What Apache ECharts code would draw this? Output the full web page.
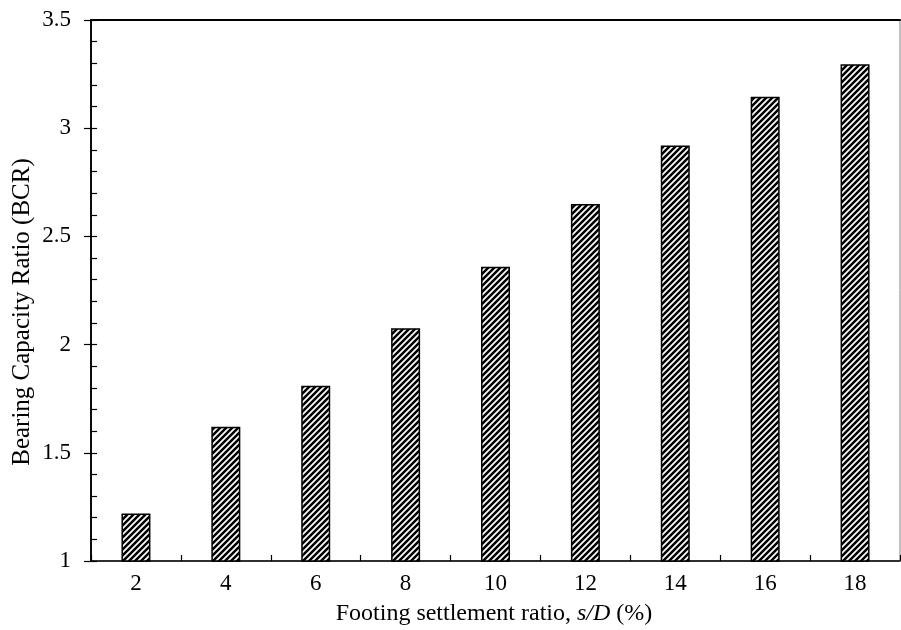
<!DOCTYPE html>
<html>
<head>
<meta charset="utf-8">
<script src="https://cdn.jsdelivr.net/npm/echarts@6/dist/echarts.min.js"></script>
<style>
html,body{margin:0;padding:0;background:#fff;}
#chart{width:901px;height:630px;}
</style>
</head>
<body>
<div id="chart"></div>
<script>
var categories = ['2','4','6','8','10','12','14','16','18'];
var bcrValues = [1.22, 1.62, 1.81, 2.075, 2.36, 2.65, 2.92, 3.145, 3.295];
var xTitle = 'Footing settlement ratio, ';
var yTitle = 'Bearing Capacity Ratio (BCR)';

function makeHatch() {
  var s = 6;
  var c = document.createElement('canvas');
  c.width = s; c.height = s;
  var g = c.getContext('2d');
  g.fillStyle = '#fff';
  g.fillRect(0, 0, s, s);
  g.strokeStyle = '#000';
  g.lineWidth = 2.5;
  g.beginPath();
  g.moveTo(-1, 1); g.lineTo(1, -1);
  g.moveTo(0, s); g.lineTo(s, 0);
  g.moveTo(s - 1, s + 1); g.lineTo(s + 1, s - 1);
  g.stroke();
  return c;
}

var FONT = '"Liberation Serif", "Times New Roman", serif';
var chart = echarts.init(document.getElementById('chart'), null, {renderer: 'canvas'});
var option = {
  animation: false,
  backgroundColor: '#fff',
  grid: {left: 91, right: 1, top: 20, bottom: 69, show: true, borderColor: '#808080', borderWidth: 1, backgroundColor: 'transparent'},
  xAxis: [{
    type: 'category',
    data: categories,
    position: 'bottom',
    boundaryGap: true,
    axisLine: {lineStyle: {color: '#000', width: 1.5}},
    axisTick: {show: true, inside: true, length: 6, lineStyle: {color: '#000', width: 1.2}},
    axisLabel: {color: '#000', fontFamily: FONT, fontSize: 23, margin: 11},
    splitLine: {show: false}
  }, {
    type: 'category',
    data: categories,
    position: 'top',
    axisLine: {lineStyle: {color: '#000', width: 2}},
    axisTick: {show: false},
    axisLabel: {show: false},
    splitLine: {show: false}
  }],
  yAxis: [{
    type: 'value',
    min: 1, max: 3.5, interval: 0.5,
    position: 'left',
    axisLine: {show: true, lineStyle: {color: '#000', width: 1.5}},
    axisTick: {show: true, inside: false, length: 7, lineStyle: {color: '#000', width: 1.2}},
    axisLabel: {color: '#000', fontFamily: FONT, fontSize: 23, margin: 20},
    splitLine: {show: false}
  }, {
    type: 'value',
    min: 1, max: 3.5, interval: 0.5,
    position: 'left',
    offset: 0,
    axisLine: {show: true, lineStyle: {color: '#000', width: 1.5}},
    axisTick: {show: true, inside: true, length: 6, lineStyle: {color: '#000', width: 1.2}},
    minorTick: {show: true, splitNumber: 5, length: 6, lineStyle: {color: '#000', width: 1.2}},
    axisLabel: {show: false},
    splitLine: {show: false}
  }],
  graphic: [{
    type: 'text',
    x: 22,
    y: 312,
    rotation: Math.PI / 2,
    style: {
      text: yTitle,
      fill: '#000',
      font: '25px ' + FONT,
      align: 'center',
      verticalAlign: 'middle'
    }
  }, {
    type: 'text',
    x: 494,
    y: 614,
    style: {
      rich: {
        n: {fontFamily: FONT, fontSize: 24, fill: '#000'},
        i: {fontFamily: FONT, fontSize: 24, fontStyle: 'italic', fill: '#000'}
      },
      text: '{n|' + xTitle + '}{i|s/D}{n| (%)}',
      align: 'center',
      verticalAlign: 'middle'
    }
  }],
  series: [{
    type: 'bar',
    xAxisIndex: 0,
    yAxisIndex: 0,
    data: bcrValues,
    barWidth: 29,
    itemStyle: {
      color: {image: makeHatch(), repeat: 'repeat'},
      borderColor: '#000',
      borderWidth: 1.5
    }
  }]
};
chart.setOption(option);
</script>
</body>
</html>
